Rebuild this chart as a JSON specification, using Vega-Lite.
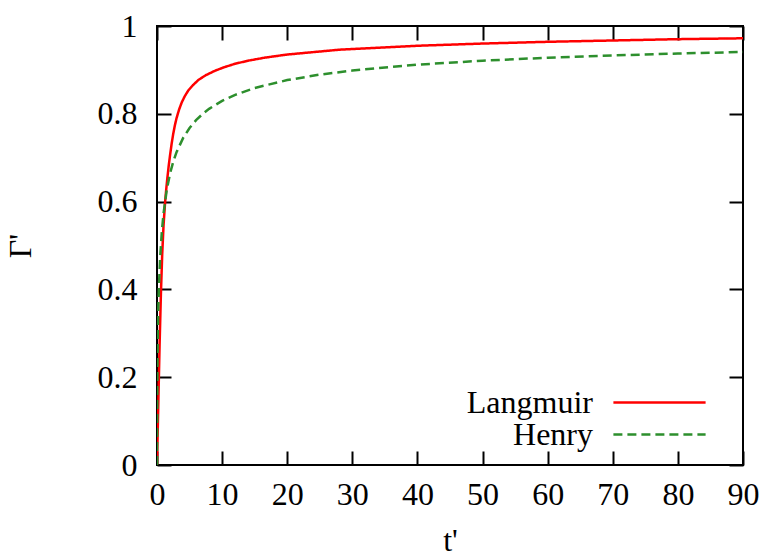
{
  "$schema": "https://vega.github.io/schema/vega-lite/v6.json",
  "width": 586,
  "height": 439,
  "autosize": "none",
  "padding": {"left": 157, "top": 26, "right": 23, "bottom": 92},
  "background": "white",
  "config": {
    "view": {"stroke": "black", "strokeWidth": 2},
    "font": "Liberation Serif",
    "axis": {
      "domain": false,
      "grid": false,
      "ticks": true,
      "tickSize": -14,
      "tickWidth": 2,
      "tickColor": "black",
      "labelFont": "Liberation Serif",
      "labelFontSize": 32,
      "labelColor": "black",
      "labelFlush": false,
      "titleFont": "Liberation Serif",
      "titleFontSize": 32,
      "titleFontWeight": "normal",
      "titleColor": "black"
    }
  },
  "data": {
    "values": [
      {"model": "Langmuir", "t": 0, "G": 0},
      {"model": "Langmuir", "t": 0.2, "G": 0.14},
      {"model": "Langmuir", "t": 0.4, "G": 0.275},
      {"model": "Langmuir", "t": 0.6, "G": 0.39},
      {"model": "Langmuir", "t": 0.8, "G": 0.48},
      {"model": "Langmuir", "t": 1.0, "G": 0.545},
      {"model": "Langmuir", "t": 1.25, "G": 0.6},
      {"model": "Langmuir", "t": 1.4, "G": 0.625},
      {"model": "Langmuir", "t": 1.6, "G": 0.655},
      {"model": "Langmuir", "t": 1.8, "G": 0.682},
      {"model": "Langmuir", "t": 2.0, "G": 0.705},
      {"model": "Langmuir", "t": 2.25, "G": 0.732},
      {"model": "Langmuir", "t": 2.5, "G": 0.755},
      {"model": "Langmuir", "t": 2.75, "G": 0.774},
      {"model": "Langmuir", "t": 3.0, "G": 0.79},
      {"model": "Langmuir", "t": 3.4, "G": 0.81},
      {"model": "Langmuir", "t": 3.8, "G": 0.826},
      {"model": "Langmuir", "t": 4.3, "G": 0.841},
      {"model": "Langmuir", "t": 4.8, "G": 0.853},
      {"model": "Langmuir", "t": 5.5, "G": 0.865},
      {"model": "Langmuir", "t": 6.35, "G": 0.877},
      {"model": "Langmuir", "t": 7.5, "G": 0.888},
      {"model": "Langmuir", "t": 8.9, "G": 0.898},
      {"model": "Langmuir", "t": 10.3, "G": 0.906},
      {"model": "Langmuir", "t": 12, "G": 0.914},
      {"model": "Langmuir", "t": 14, "G": 0.921},
      {"model": "Langmuir", "t": 16.6, "G": 0.928},
      {"model": "Langmuir", "t": 20, "G": 0.935},
      {"model": "Langmuir", "t": 28, "G": 0.946},
      {"model": "Langmuir", "t": 40, "G": 0.955},
      {"model": "Langmuir", "t": 50, "G": 0.96},
      {"model": "Langmuir", "t": 60, "G": 0.964},
      {"model": "Langmuir", "t": 70, "G": 0.967},
      {"model": "Langmuir", "t": 80, "G": 0.97},
      {"model": "Langmuir", "t": 90, "G": 0.972},
      {"model": "Henry", "t": 0, "G": 0},
      {"model": "Henry", "t": 0.05, "G": 0.2096},
      {"model": "Henry", "t": 0.1, "G": 0.2764},
      {"model": "Henry", "t": 0.2, "G": 0.3562},
      {"model": "Henry", "t": 0.3, "G": 0.408},
      {"model": "Henry", "t": 0.5, "G": 0.4768},
      {"model": "Henry", "t": 0.75, "G": 0.5328},
      {"model": "Henry", "t": 1, "G": 0.5724},
      {"model": "Henry", "t": 1.5, "G": 0.6269},
      {"model": "Henry", "t": 2, "G": 0.6638},
      {"model": "Henry", "t": 2.5, "G": 0.6912},
      {"model": "Henry", "t": 3, "G": 0.7127},
      {"model": "Henry", "t": 4, "G": 0.7446},
      {"model": "Henry", "t": 5, "G": 0.7677},
      {"model": "Henry", "t": 6, "G": 0.7854},
      {"model": "Henry", "t": 7, "G": 0.7995},
      {"model": "Henry", "t": 8, "G": 0.8112},
      {"model": "Henry", "t": 10, "G": 0.8294},
      {"model": "Henry", "t": 12, "G": 0.8432},
      {"model": "Henry", "t": 15, "G": 0.8588},
      {"model": "Henry", "t": 20, "G": 0.8768},
      {"model": "Henry", "t": 25, "G": 0.8893},
      {"model": "Henry", "t": 30, "G": 0.8986},
      {"model": "Henry", "t": 40, "G": 0.9119},
      {"model": "Henry", "t": 50, "G": 0.921},
      {"model": "Henry", "t": 60, "G": 0.9278},
      {"model": "Henry", "t": 70, "G": 0.933},
      {"model": "Henry", "t": 80, "G": 0.9373},
      {"model": "Henry", "t": 90, "G": 0.9409}
    ]
  },
  "layer": [
    {
      "mark": {"type": "line", "strokeWidth": 2.5, "clip": true},
      "encoding": {
        "x": {
          "field": "t", "type": "quantitative",
          "scale": {"domain": [0, 90], "nice": false},
          "axis": {"orient": "bottom", "values": [0, 10, 20, 30, 40, 50, 60, 70, 80, 90], "title": "t'", "labelPadding": 28, "titlePadding": 15}
        },
        "y": {
          "field": "G", "type": "quantitative",
          "scale": {"domain": [0, 1], "nice": false},
          "axis": {"orient": "left", "values": [0, 0.2, 0.4, 0.6, 0.8, 1], "format": ".1~f", "title": "Γ'", "labelPadding": 34, "titlePadding": 60}
        },
        "color": {
          "field": "model", "type": "nominal",
          "scale": {"domain": ["Langmuir", "Henry"], "range": ["#ff0000", "#2d8f2d"]},
          "legend": {"title": null, "values": ["Langmuir"], "orient": "none", "legendX": 455, "legendY": 329, "symbolType": "stroke", "symbolSize": 8500, "symbolStrokeWidth": 2.5, "labelFont": "Liberation Serif", "labelFontSize": 32, "labelColor": "black", "labelAlign": "right", "labelOffset": -114, "labelLimit": 400, "padding": 0}
        },
        "strokeDash": {
          "field": "model", "type": "nominal",
          "scale": {"domain": ["Henry", "Langmuir"], "range": [[9, 5], [1, 0]]},
          "legend": {"title": null, "values": ["Henry"], "orient": "none", "legendX": 455, "legendY": 361, "symbolType": "stroke", "symbolSize": 8500, "symbolStrokeWidth": 2.5, "symbolStrokeColor": "#2d8f2d", "labelFont": "Liberation Serif", "labelFontSize": 32, "labelColor": "black", "labelAlign": "right", "labelOffset": -114, "labelLimit": 400, "padding": 0}
        }
      }
    },
    {
      "mark": {"type": "point", "opacity": 0},
      "encoding": {
        "x": {
          "field": "t", "type": "quantitative",
          "scale": {"domain": [0, 90], "nice": false},
          "axis": {"orient": "top", "values": [0, 10, 20, 30, 40, 50, 60, 70, 80, 90], "labels": false, "title": null}
        },
        "y": {
          "field": "G", "type": "quantitative",
          "scale": {"domain": [0, 1], "nice": false},
          "axis": {"orient": "right", "values": [0, 0.2, 0.4, 0.6, 0.8, 1], "labels": false, "title": null}
        }
      }
    }
  ],
  "resolve": {"axis": {"x": "independent", "y": "independent"}}
}
